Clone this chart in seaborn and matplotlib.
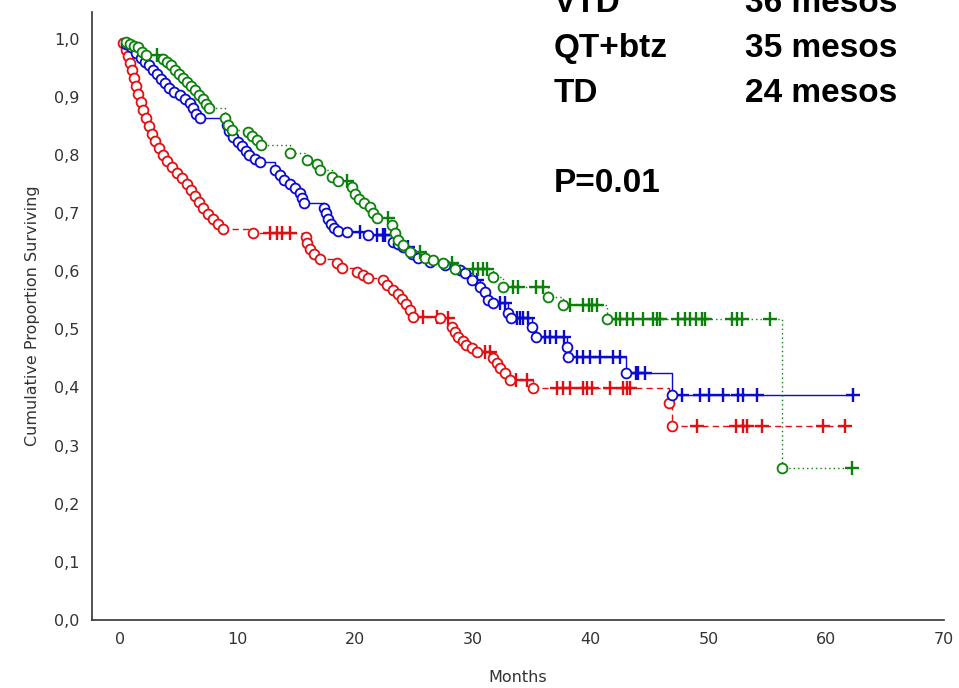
import numpy as np
import pandas as pd
import matplotlib
matplotlib.use('Agg')
import matplotlib.pyplot as plt
import seaborn as sns

# ── Data ───────────────────────────────────────────────────────────────────────
# TD (red, dashed)
td_event_t = [0.25, 0.51, 0.68, 0.85, 1.02, 1.19, 1.36, 1.53, 1.78, 1.95, 2.21, 2.46,
              2.72, 2.97, 3.31, 3.65, 3.99, 4.42, 4.84, 5.27, 5.69, 6.03, 6.37, 6.71,
              7.05, 7.48, 7.90, 8.33, 8.75, 11.3, 15.8, 15.9, 16.1, 16.5, 17.0, 18.4,
              18.9, 20.1, 20.6, 21.1, 22.3, 22.7, 23.2, 23.6, 23.96, 24.3, 24.6, 24.9,
              27.2, 28.2, 28.5, 28.7, 29.1, 29.4, 29.9, 30.3, 31.7, 32.0, 32.3, 32.7,
              33.1, 35.1, 46.6, 46.9]
td_event_s = [0.993, 0.981, 0.971, 0.959, 0.947, 0.933, 0.919, 0.905, 0.892, 0.878, 0.864, 0.850,
              0.836, 0.824, 0.812, 0.800, 0.790, 0.780, 0.769, 0.761, 0.750, 0.740, 0.730, 0.719,
              0.709, 0.699, 0.690, 0.682, 0.673, 0.666, 0.659, 0.649, 0.639, 0.630, 0.621, 0.614,
              0.606, 0.599, 0.594, 0.589, 0.585, 0.577, 0.568, 0.561, 0.553, 0.544, 0.534, 0.522,
              0.520, 0.504, 0.496, 0.487, 0.480, 0.473, 0.468, 0.461, 0.451, 0.442, 0.434, 0.425,
              0.413, 0.399, 0.373, 0.334]
td_cens_t = [12.7, 13.3, 13.8, 14.4, 25.7, 26.9, 27.9, 31.0, 31.4, 33.6, 34.6,
             37.1, 37.6, 38.2, 39.3, 39.7, 40.1, 41.6, 42.7, 43.1, 43.3,
             49.0, 52.3, 52.9, 53.3, 54.5, 59.7, 61.6]
td_cens_s = [0.666, 0.666, 0.666, 0.666, 0.522, 0.522, 0.520, 0.461, 0.461, 0.413, 0.413,
             0.399, 0.399, 0.399, 0.399, 0.399, 0.399, 0.399, 0.399, 0.399, 0.399,
             0.334, 0.334, 0.334, 0.334, 0.334, 0.334, 0.334]

# QT+btz (blue, solid)
qt_event_t = [0.5, 0.93, 1.36, 1.78, 2.12, 2.46, 2.80, 3.14, 3.48, 3.82, 4.16, 4.59,
              5.10, 5.52, 5.95, 6.20, 6.46, 6.80, 9.09, 9.26, 9.6, 10.0, 10.4, 10.7,
              11.0, 11.5, 11.9, 13.2, 13.6, 13.9, 14.4, 14.9, 15.3, 15.5, 15.6, 17.3,
              17.5, 17.7, 17.9, 18.2, 18.5, 19.3, 21.1, 23.2, 23.6, 24.0, 24.8, 25.3,
              26.3, 27.6, 28.9, 29.3, 29.9, 30.6, 31.0, 31.3, 31.7, 33.0, 33.2, 35.0,
              35.3, 38.0, 38.1, 43.0, 46.9]
qt_event_s = [0.991, 0.985, 0.976, 0.967, 0.960, 0.954, 0.947, 0.940, 0.931, 0.923, 0.916, 0.909,
              0.904, 0.897, 0.890, 0.880, 0.871, 0.864, 0.852, 0.842, 0.831, 0.823, 0.816, 0.807,
              0.800, 0.793, 0.788, 0.775, 0.766, 0.757, 0.750, 0.744, 0.735, 0.726, 0.718, 0.709,
              0.701, 0.690, 0.682, 0.675, 0.670, 0.668, 0.663, 0.651, 0.647, 0.642, 0.630, 0.623,
              0.616, 0.611, 0.602, 0.597, 0.585, 0.573, 0.565, 0.551, 0.546, 0.528, 0.520, 0.504,
              0.487, 0.470, 0.453, 0.425, 0.387]
qt_cens_t = [20.4, 21.8, 22.3, 22.5, 24.5, 30.3, 32.3, 32.7, 33.7, 34.0, 34.2, 34.7,
             36.1, 36.5, 37.0, 37.7, 38.8, 39.3, 39.9, 40.8, 41.9, 42.5,
             43.8, 44.0, 44.6, 47.7, 49.3, 50.0, 51.2, 52.5, 52.9, 54.1, 62.3]
qt_cens_s = [0.668, 0.663, 0.663, 0.663, 0.642, 0.585, 0.546, 0.546, 0.520, 0.520, 0.520, 0.520,
             0.487, 0.487, 0.487, 0.487, 0.453, 0.453, 0.453, 0.453, 0.453, 0.453,
             0.425, 0.425, 0.425, 0.387, 0.387, 0.387, 0.387, 0.387, 0.387, 0.387, 0.387]

# VTD (green, dotted)
vtd_event_t = [0.5, 0.85, 1.19, 1.53, 1.87, 2.21, 3.65, 3.99, 4.33, 4.67, 5.01, 5.35,
               5.69, 6.03, 6.37, 6.71, 7.05, 7.31, 7.56, 8.92, 9.18, 9.52, 10.9, 11.2,
               11.6, 12.0, 14.4, 15.9, 16.7, 17.0, 18.0, 18.5, 19.7, 20.0, 20.3, 20.7,
               21.2, 21.5, 21.8, 23.1, 23.4, 23.6, 24.0, 24.6, 25.9, 26.6, 27.4, 28.5,
               31.7, 32.5, 36.4, 37.6, 41.4, 56.2]
vtd_event_s = [0.995, 0.991, 0.988, 0.985, 0.978, 0.972, 0.966, 0.960, 0.954, 0.947, 0.940, 0.933,
               0.926, 0.919, 0.912, 0.904, 0.897, 0.888, 0.880, 0.864, 0.852, 0.843, 0.840, 0.833,
               0.826, 0.818, 0.804, 0.792, 0.785, 0.775, 0.762, 0.756, 0.745, 0.733, 0.725, 0.718,
               0.711, 0.701, 0.692, 0.680, 0.666, 0.654, 0.645, 0.633, 0.623, 0.620, 0.614, 0.604,
               0.590, 0.573, 0.556, 0.542, 0.518, 0.262]
vtd_cens_t = [3.1, 19.3, 22.8, 25.5, 28.2, 30.0, 30.4, 30.8, 31.2, 33.4, 33.8, 35.3, 35.9,
              38.2, 39.3, 39.8, 40.1, 40.5, 42.1, 42.5, 43.1, 43.6, 44.4, 45.3, 45.6, 45.9,
              47.4, 48.0, 48.4, 48.9, 49.4, 49.7, 52.0, 52.4, 52.8, 55.2, 62.2]
vtd_cens_s = [0.972, 0.756, 0.692, 0.633, 0.614, 0.604, 0.604, 0.604, 0.604, 0.573, 0.573, 0.573, 0.573,
              0.542, 0.542, 0.542, 0.542, 0.542, 0.518, 0.518, 0.518, 0.518, 0.518, 0.518, 0.518, 0.518,
              0.518, 0.518, 0.518, 0.518, 0.518, 0.518, 0.518, 0.518, 0.518, 0.518, 0.262]

x_ticks = [0, 10, 20, 30, 40, 50, 60, 70]
y_ticks = [0.0, 0.1, 0.2, 0.3, 0.4, 0.5, 0.6, 0.7, 0.8, 0.9, 1.0]

GROUPS = [
    # name, events t, events s, censored t, censored s, colour, linestyle
    ('TD', td_event_t, td_event_s, td_cens_t, td_cens_s, '#e01010', (0, (4.5, 3))),
    ('QT+btz', qt_event_t, qt_event_s, qt_cens_t, qt_cens_s, '#0a0ad0', '-'),
    ('VTD', vtd_event_t, vtd_event_s, vtd_cens_t, vtd_cens_s, '#0a820a', (0, (1, 2.2))),
]

sns.set_style('white')
plt.rcParams['font.family'] = ['DejaVu Sans']

fig = plt.figure(figsize=(9.59, 6.88), dpi=100)
ax = fig.add_axes([92 / 959, 68 / 688, (944 - 92) / 959, (620 - 12) / 688])

for z, (name, et, es, ct, cs, col, ls) in enumerate(GROUPS):
    end_t = max(max(ct), max(et))
    step = pd.DataFrame({'t': [0.0] + et + [end_t],
                         's': [1.0] + es + [es[-1]]})
    sns.lineplot(data=step, x='t', y='s', ax=ax, estimator=None, sort=False,
                 drawstyle='steps-post', color=col, linestyle=ls, lw=1.0,
                 zorder=2 + z)
    sns.scatterplot(x=ct, y=cs, ax=ax, marker='+', color=col, s=95,
                    linewidth=1.7, zorder=3 + z)
    sns.scatterplot(x=et, y=es, ax=ax, marker='o', facecolor='white',
                    edgecolor=col, s=50, linewidth=1.3, zorder=4 + z)

ax.set_xlim(-2.38, 70)
ax.set_ylim(0, 1.046)
ax.set_xticks(x_ticks)
ax.set_xticklabels([str(v) for v in x_ticks])
ax.set_yticks(y_ticks)
ax.set_yticklabels([f'{v:.1f}'.replace('.', ',') for v in y_ticks])
ax.tick_params(direction='in', length=4, width=1, colors='#333333',
               labelsize=11.5, pad=9, labelcolor='#333333')
for sp in ['top', 'right']:
    ax.spines[sp].set_visible(False)
for sp in ['left', 'bottom']:
    ax.spines[sp].set_color('#333333')
    ax.spines[sp].set_linewidth(1.2)
ax.set_xlabel('Months', fontsize=11.5, color='#333333', labelpad=16)
ax.set_ylabel('Cumulative Proportion Surviving', fontsize=11.5, color='#333333', labelpad=10)

# median survival annotation
big = dict(fontsize=24, fontweight='bold', family='Liberation Sans', va='baseline', color='black')
rows = [('VTD', '36 mesos', 12), ('QT+btz', '35 mesos', 57), ('TD', '24 mesos', 102)]
for lab, med, yb in rows:
    fig.text(554 / 959, 1 - yb / 688, lab, **big)
    fig.text(745 / 959, 1 - yb / 688, med, **big)
fig.text(554 / 959, 1 - 192 / 688, 'P=0.01', **big)

plt.savefig('out.png', dpi=100)
plt.close()
